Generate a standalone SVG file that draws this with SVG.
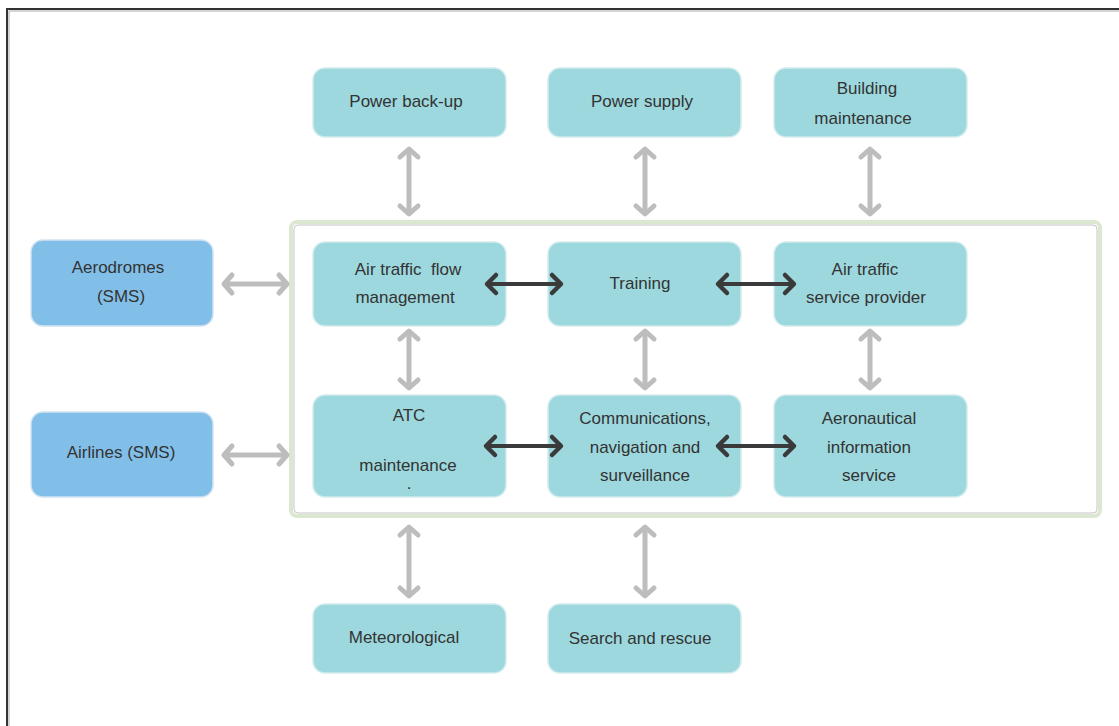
<svg xmlns="http://www.w3.org/2000/svg" width="1119" height="726" viewBox="0 0 1119 726">
<defs>
<style>
.box{fill:#9dd8de;stroke:#d3ecee;stroke-width:1.5}
.blue{fill:#82bfe8;stroke:#cfe3f2;stroke-width:1.5}
text{font-family:"Liberation Sans",Arial,sans-serif;font-size:17px;fill:#333;text-anchor:middle}
.g{stroke:#bdbdbd;stroke-width:5;fill:none;marker-start:url(#gh);marker-end:url(#gh)}
.d{stroke:#3a3a3a;stroke-width:4;fill:none;marker-start:url(#dh);marker-end:url(#dh)}
</style>
<marker id="gh" markerUnits="userSpaceOnUse" markerWidth="30" markerHeight="30" viewBox="-15 -15 30 30" refX="0" refY="0" orient="auto-start-reverse">
<path d="M-8,-9 L0,0 L-8,9" fill="none" stroke="#bdbdbd" stroke-width="5" stroke-linecap="round" stroke-linejoin="round"/>
</marker>
<marker id="dh" markerUnits="userSpaceOnUse" markerWidth="30" markerHeight="30" viewBox="-15 -15 30 30" refX="0" refY="0" orient="auto-start-reverse">
<path d="M-9,-9 L0,0 L-9,9" fill="none" stroke="#3a3a3a" stroke-width="4.5" stroke-linecap="round" stroke-linejoin="round"/>
</marker>
</defs>
<rect width="1119" height="726" fill="#fff"/>
<path d="M7,726 V9 H1119" fill="none" stroke="#333" stroke-width="2"/>
<path d="M9,726 V11 H1119" fill="none" stroke="#aaa" stroke-width="1"/>

<g id="container">
<rect x="291" y="222" width="809" height="294" rx="6" fill="#fff" stroke="#dbe7d0" stroke-width="4"/>
<rect x="294" y="225" width="803" height="288" rx="4" fill="none" stroke="#c4c4c4" stroke-width="1"/>
</g>

<g id="power-backup"><rect class="box" x="313" y="68" width="193" height="69" rx="12"/><text x="406" y="107">Power back-up</text></g>
<g id="power-supply"><rect class="box" x="548" y="68" width="193" height="69" rx="12"/><text x="642" y="107">Power supply</text></g>
<g id="building-maintenance"><rect class="box" x="774" y="68" width="193" height="69" rx="12"/><text x="867" y="94">Building</text><text x="863" y="124">maintenance</text></g>

<g id="aerodromes"><rect class="blue" x="31" y="240" width="182" height="86" rx="12"/><text x="118" y="273">Aerodromes</text><text x="121" y="302">(SMS)</text></g>
<g id="airlines"><rect class="blue" x="31" y="412" width="182" height="85" rx="12"/><text x="121" y="458">Airlines  (SMS)</text></g>

<g id="atfm"><rect class="box" x="313" y="242" width="193" height="84" rx="12"/><text x="408" y="275" xml:space="preserve">Air traffic  flow</text><text x="405" y="303">management</text></g>
<g id="training"><rect class="box" x="548" y="242" width="193" height="84" rx="12"/><text x="640" y="289">Training</text></g>
<g id="atsp"><rect class="box" x="774" y="242" width="193" height="84" rx="12"/><text x="865" y="275">Air traffic</text><text x="866" y="303">service provider</text></g>

<g id="atc-maintenance"><rect class="box" x="313" y="395" width="193" height="102" rx="12"/><text x="409" y="421">ATC</text><text x="408" y="471">maintenance</text><text x="409" y="489">.</text></g>
<g id="cns"><rect class="box" x="548" y="395" width="193" height="102" rx="12"/><text x="645" y="424">Communications,</text><text x="645" y="453">navigation and</text><text x="645" y="481">surveillance</text></g>
<g id="ais"><rect class="box" x="774" y="395" width="193" height="102" rx="12"/><text x="869" y="424">Aeronautical</text><text x="869" y="453">information</text><text x="869" y="481">service</text></g>

<g id="meteorological"><rect class="box" x="313" y="604" width="193" height="69" rx="12"/><text x="404" y="643">Meteorological</text></g>
<g id="search-rescue"><rect class="box" x="548" y="604" width="193" height="69" rx="12"/><text x="640" y="644">Search and rescue</text></g>

<g id="connectors">
<line class="g" x1="409" y1="149" x2="409" y2="214"/>
<line class="g" x1="645" y1="149" x2="645" y2="214"/>
<line class="g" x1="870" y1="149" x2="870" y2="214"/>
<line class="g" x1="409" y1="331" x2="409" y2="388"/>
<line class="g" x1="645" y1="331" x2="645" y2="388"/>
<line class="g" x1="870" y1="331" x2="870" y2="388"/>
<line class="g" x1="409" y1="527" x2="409" y2="596"/>
<line class="g" x1="645" y1="527" x2="645" y2="596"/>
<line class="g" x1="224" y1="284" x2="287" y2="284"/>
<line class="g" x1="224" y1="455" x2="287" y2="455"/>
<line class="d" x1="487" y1="284" x2="561" y2="284"/>
<line class="d" x1="718" y1="284" x2="794" y2="284"/>
<line class="d" x1="486" y1="446" x2="561" y2="446"/>
<line class="d" x1="718" y1="446" x2="794" y2="446"/>
</g>
</svg>
